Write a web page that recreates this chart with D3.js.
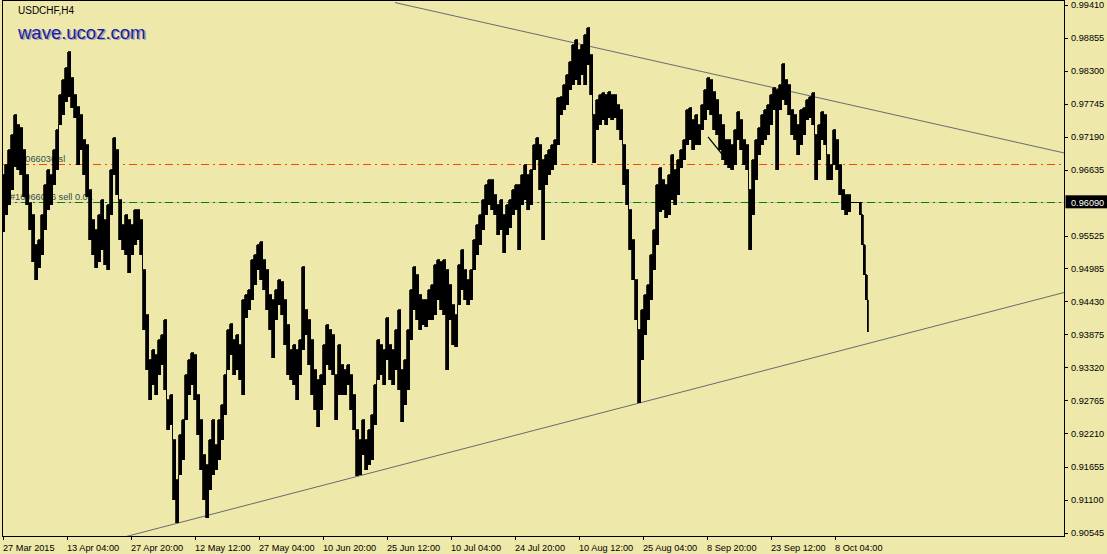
<!DOCTYPE html>
<html><head><meta charset="utf-8">
<script src="https://cdn.jsdelivr.net/npm/d3@7"></script>
<style>
html,body{margin:0;padding:0;background:#EEE8AA;}
svg{display:block;}
text{font-family:"Liberation Sans",Arial,sans-serif;}
</style></head><body>
<svg id="c" width="1107" height="554"></svg>
<script>
// ---------- DATA ----------
const symbolTitle = "USDCHF,H4";
const watermark = "wave.ucoz.com";

// H4 bar index counted from 27 Mar 2015 00:00
const bars = [
0,3,6,9,12,15,18,21,24,27,30,33,36,39,42,45,48,51,54,57,
60,63,66,69,72,75,78,81,84,87,90,93,96,99,102,105,108,111,114,117,
120,123,126,129,132,135,138,141,144,147,150,153,156,159,162,165,168,171,174,177,
180,183,186,189,192,195,198,201,204,207,210,213,216,219,222,225,228,231,234,237,
240,243,246,249,252,255,258,261,264,267,270,273,276,279,282,285,288,291,294,297,
300,303,306,309,312,315,318,321,324,327,330,333,336,339,342,345,348,351,354,357,
360,363,366,369,372,375,378,381,384,387,390,393,396,399,402,405,408,411,414,417,
420,423,426,429,432,435,438,441,444,447,450,453,456,459,462,465,468,471,474,477,
480,483,486,489,492,495,498,501,504,507,510,513,516,519,522,525,528,531,534,537,
540,543,546,549,552,555,558,561,564,567,570,573,576,579,582,585,588,591,594,597,
600,603,606,609,612,615,618,621,624,627,630,633,636,639,642,645,648,651,654,657,
660,663,666,669,672,675,678,681,684,687,690,693,696,699,702,705,708,711,714,717,
720,723,726,729,732,735,738,741,744,747,750,753,756,759,762,765,768,771,774,777,
780,783,786,789,792,795,798,801,804,807,810,813,816,819,822,825,828,831,834,837,
840,843,846,849,852,855,857,859,861,863,865];

const highs = [
0.96549,0.96717,0.96969,0.97221,0.97556,0.97388,0.97338,0.96969,0.96549,0.96080,
0.95878,0.95375,0.95459,0.95878,0.96382,0.96633,0.96549,0.96969,0.97305,0.97892,
0.98144,0.98345,0.98613,0.98177,0.97892,0.97690,0.97556,0.97137,0.97053,0.96298,
0.95794,0.95627,0.95878,0.96130,0.95794,0.96046,0.96633,0.97170,0.96969,0.96130,
0.95711,0.95878,0.95794,0.95711,0.95962,0.95962,0.95794,0.94955,0.94200,0.93445,
0.93613,0.93529,0.93781,0.93865,0.94116,0.92774,0.92858,0.92103,0.91432,0.92187,
0.92438,0.93194,0.93445,0.93563,0.93529,0.92858,0.92438,0.91851,0.91683,0.92103,
0.92438,0.92019,0.92438,0.92690,0.93194,0.93949,0.94049,0.93781,0.93865,0.93697,
0.94452,0.94536,0.94620,0.95123,0.95207,0.95375,0.95425,0.95123,0.94955,0.94536,
0.94452,0.94620,0.94788,0.94754,0.94452,0.94033,0.93613,0.93697,0.93613,0.93781,
0.95006,0.94284,0.94116,0.93781,0.93277,0.93110,0.93194,0.93697,0.94033,0.93949,
0.93865,0.93194,0.93697,0.93361,0.93277,0.93361,0.93194,0.92858,0.92271,0.92103,
0.92438,0.92103,0.92271,0.92522,0.93026,0.93781,0.93697,0.93613,0.94150,0.93697,
0.93613,0.93949,0.94284,0.93277,0.93445,0.93949,0.94620,0.95006,0.94872,0.94536,
0.94452,0.94452,0.94620,0.94704,0.95039,0.95123,0.95090,0.95123,0.94955,0.94704,
0.94368,0.94200,0.95039,0.95291,0.94955,0.94788,0.94955,0.95459,0.95711,0.95878,
0.96130,0.96382,0.96466,0.96466,0.96214,0.96046,0.96130,0.95878,0.96046,0.96130,
0.96298,0.96382,0.96382,0.96549,0.96717,0.96549,0.96633,0.97053,0.97170,0.97053,
0.96801,0.96885,0.96969,0.97053,0.97137,0.97842,0.97858,0.98060,0.98228,0.98446,
0.98731,0.98815,0.98647,0.98731,0.98899,0.99016,0.98563,0.97556,0.97808,0.97892,
0.97925,0.97892,0.97942,0.97892,0.97892,0.97724,0.97640,0.97053,0.96633,0.95962,
0.95459,0.94788,0.93949,0.94284,0.94536,0.94704,0.95207,0.95627,0.96382,0.96667,
0.96466,0.96382,0.96549,0.96885,0.96633,0.96801,0.96969,0.97137,0.97640,0.97674,
0.97472,0.97556,0.97388,0.97724,0.97976,0.98177,0.98144,0.97942,0.97808,0.97556,
0.97388,0.97137,0.97137,0.97053,0.97305,0.97607,0.97472,0.97137,0.97053,0.96298,
0.96801,0.97137,0.97338,0.97556,0.97640,0.97724,0.97892,0.98009,0.97976,0.98060,
0.98412,0.98144,0.98060,0.97640,0.97556,0.97388,0.97640,0.97674,0.97808,0.97858,
0.97925,0.97221,0.97388,0.97607,0.97556,0.96885,0.96717,0.97305,0.97137,0.96717,
0.96298,0.96214,0.96214,0.96090,0.96090,0.96090,
0.96090,0.95878,0.95375,0.94872,0.94452];

const lows = [
0.95593,0.95878,0.96046,0.96298,0.96684,0.96633,0.96549,0.96180,0.96046,0.95627,
0.95090,0.94788,0.94989,0.95207,0.95627,0.95962,0.96046,0.96382,0.96633,0.97388,
0.97556,0.97774,0.97858,0.97674,0.97506,0.96717,0.96969,0.96549,0.96180,0.95459,
0.95207,0.94989,0.95090,0.95291,0.95039,0.94955,0.95878,0.96549,0.96214,0.95459,
0.95291,0.95207,0.94905,0.95207,0.95375,0.95459,0.95207,0.93949,0.93277,0.92774,
0.93026,0.92858,0.93194,0.93361,0.92942,0.92271,0.92355,0.91096,0.90710,0.91516,
0.91767,0.92438,0.92858,0.93026,0.92774,0.92187,0.91599,0.91096,0.90794,0.91264,
0.91516,0.91599,0.91767,0.92103,0.92522,0.93277,0.93529,0.93194,0.93277,0.93110,
0.92858,0.94150,0.94284,0.94452,0.94704,0.94955,0.94788,0.94620,0.94284,0.93949,
0.93479,0.94116,0.94368,0.94200,0.93697,0.93194,0.93110,0.93026,0.92774,0.93194,
0.93613,0.93865,0.93361,0.92858,0.92606,0.92321,0.92606,0.93026,0.93361,0.93277,
0.93194,0.92438,0.92858,0.92858,0.92858,0.93026,0.92606,0.92271,0.91499,0.91516,
0.91851,0.91599,0.91683,0.91767,0.92355,0.93110,0.93194,0.93026,0.93445,0.93110,
0.93026,0.93277,0.92942,0.92405,0.92690,0.92942,0.93781,0.94284,0.94116,0.93949,
0.94033,0.93999,0.94116,0.94116,0.94200,0.94452,0.94284,0.94200,0.93277,0.94116,
0.93697,0.93663,0.94368,0.94620,0.94452,0.94368,0.94452,0.94955,0.95207,0.95375,
0.95627,0.95878,0.96046,0.95962,0.95878,0.95543,0.95627,0.95241,0.95543,0.95660,
0.95878,0.95962,0.95291,0.96046,0.96130,0.95962,0.96046,0.96633,0.96801,0.96298,
0.95459,0.96382,0.96549,0.96633,0.96717,0.97053,0.97556,0.97640,0.97724,0.97976,
0.98060,0.98144,0.98060,0.98228,0.98060,0.98395,0.97892,0.96751,0.97305,0.97388,
0.97472,0.97388,0.97506,0.97472,0.97506,0.97305,0.97137,0.96382,0.96046,0.95291,
0.94788,0.94116,0.92724,0.93445,0.93865,0.94116,0.94452,0.94955,0.95375,0.95929,
0.95962,0.95828,0.95878,0.96130,0.96046,0.96214,0.96667,0.96801,0.97053,0.97137,
0.96969,0.97053,0.97053,0.97305,0.97472,0.97640,0.97556,0.97305,0.97221,0.96969,
0.96801,0.96717,0.96667,0.96633,0.96717,0.97137,0.96969,0.96717,0.96633,0.95291,
0.95878,0.96466,0.96885,0.97053,0.97137,0.97221,0.97388,0.97640,0.96633,0.97640,
0.97808,0.97724,0.97556,0.97221,0.97137,0.96885,0.97053,0.97221,0.97472,0.97506,
0.97388,0.96466,0.96801,0.97137,0.97053,0.96466,0.96466,0.96717,0.96633,0.96214,
0.95962,0.95878,0.95929,0.96090,0.96090,0.96090,
0.95878,0.95375,0.94872,0.94452,0.93915];

const priceTicks = [0.99410,0.98855,0.98300,0.97745,0.97190,0.96635,0.95525,0.94985,
  0.94430,0.93875,0.93320,0.92765,0.92210,0.91655,0.91100,0.90545];
const priceTickLabels = ["0.99410","0.98855","0.98300","0.97745","0.97190","0.96635","0.95525","0.94985",
  "0.94430","0.93875","0.93320","0.92765","0.92210","0.91655","0.91100","0.90545"];

const timeTicks = [0,64,128,192,256,320,384,448,512,576,640,704,768,832];
const timeTickLabels = ["27 Mar 2015","13 Apr 04:00","27 Apr 20:00","12 May 12:00","27 May 04:00",
  "10 Jun 20:00","25 Jun 12:00","10 Jul 04:00","24 Jul 20:00","10 Aug 12:00","25 Aug 04:00",
  "8 Sep 20:00","23 Sep 12:00","8 Oct 04:00"];

const upperTrendBars = [392, 1061];
const upperTrendPrices = [0.99442, 0.96919];
const lowerTrendBars = [120, 1061];
const lowerTrendPrices = [0.90467, 0.94576];
const tradeLineBars = [705, 722];
const tradeLinePrices = [0.97187, 0.96835];

const slPrice = 0.96729;
const slLabel = "#16066036 sl";
const openPrice = 0.96090;
const openLabel = "#16066036 sell 0.01";
const currentPrice = 0.96090;
const currentPriceLabel = "0.96090";

// ---------- LAYOUT ----------
const W = 1107, H = 554;
const pL = 2.5, pR = 1064.5, pT = 0.5, pB = 536.5;

const svg = d3.select("#c");
svg.append("rect").attr("width", W).attr("height", H).attr("fill", "#EEE8AA");

const x = d3.scaleLinear().domain([0, 1061.5]).range([3, 1064.5]);
const y = d3.scaleLinear().domain([0.90545, 0.99410]).range([532.7, 4.5]);

svg.append("clipPath").attr("id", "plot")
  .append("rect").attr("x", pL).attr("y", pT).attr("width", pR - pL).attr("height", pB - pT);

const g = svg.append("g").attr("clip-path", "url(#plot)");

// level lines
g.append("line").attr("x1", pL).attr("x2", pR).attr("y1", y(slPrice)).attr("y2", y(slPrice))
  .attr("stroke", "#FF4500").attr("stroke-width", 1).attr("stroke-dasharray", "8,4,2,4")
  .attr("shape-rendering", "crispEdges");
g.append("line").attr("x1", pL).attr("x2", pR).attr("y1", y(openPrice)).attr("y2", y(openPrice))
  .attr("stroke", "#C0C0C0").attr("stroke-width", 1).attr("shape-rendering", "crispEdges");
g.append("line").attr("x1", pL).attr("x2", pR).attr("y1", y(openPrice)).attr("y2", y(openPrice))
  .attr("stroke", "#008000").attr("stroke-width", 1).attr("stroke-dasharray", "8,4,2,4")
  .attr("shape-rendering", "crispEdges");

g.append("text").attr("x", 10).attr("y", y(slPrice) - 2.5).attr("font-size", 9.2).attr("fill", "#2F4F4F").text(slLabel);
g.append("text").attr("x", 10).attr("y", y(openPrice) - 2.5).attr("font-size", 9.2).attr("fill", "#2F4F4F").text(openLabel);

// trend lines
function seg(bs, ps, color, w) {
  g.append("line").attr("x1", x(bs[0])).attr("y1", y(ps[0])).attr("x2", x(bs[1])).attr("y2", y(ps[1]))
    .attr("stroke", color).attr("stroke-width", w);
}
seg(upperTrendBars, upperTrendPrices, "#6A6A72", 1);
seg(lowerTrendBars, lowerTrendPrices, "#6A6A72", 1);

// price bars: dense high-low columns
const data = bars.map((b, i) => ({bar: b, hi: highs[i], lo: lows[i]}));
const area = d3.area().curve(d3.curveStep).x(d => x(d.bar)).y0(d => y(d.lo)).y1(d => y(d.hi));
g.append("path").datum(data).attr("d", area).attr("fill", "#000").attr("stroke", "#000")
  .attr("stroke-width", 0.8).attr("shape-rendering", "crispEdges");

// trade history line
seg(tradeLineBars, tradeLinePrices, "#000", 1.3);

// frame
svg.append("rect").attr("x", pL).attr("y", pT).attr("width", pR - pL).attr("height", pB - pT)
  .attr("fill", "none").attr("stroke", "#000").attr("stroke-width", 1).attr("shape-rendering", "crispEdges");

// price axis
const pa = svg.append("g");
priceTicks.forEach((p, i) => {
  const yy = Math.round(y(p)) + 0.5;
  pa.append("line").attr("x1", pR).attr("x2", pR + 3).attr("y1", yy).attr("y2", yy)
    .attr("stroke", "#000").attr("shape-rendering", "crispEdges");
  pa.append("text").attr("x", 1071).attr("y", y(p) + 3.4).attr("font-size", 9.2).attr("fill", "#000")
    .text(priceTickLabels[i]);
});
// current price tag
const cy = y(currentPrice);
pa.append("rect").attr("x", 1065.5).attr("y", cy - 7).attr("width", 42).attr("height", 13).attr("fill", "#000");
pa.append("text").attr("x", 1071).attr("y", cy + 3.4).attr("font-size", 9.2).attr("fill", "#fff").text(currentPriceLabel);

// time axis
const ta = svg.append("g");
timeTicks.forEach((b, i) => {
  const xx = Math.round(x(b)) + 0.5;
  ta.append("line").attr("x1", xx).attr("x2", xx).attr("y1", pB).attr("y2", pB + 3.5)
    .attr("stroke", "#000").attr("shape-rendering", "crispEdges");
  ta.append("text").attr("x", x(b)).attr("y", 550.5).attr("font-size", 9.2).attr("fill", "#000")
    .text(timeTickLabels[i]);
});

// titles
svg.append("text").attr("x", 18).attr("y", 14).attr("font-size", 10).attr("fill", "#000").text(symbolTitle);
svg.append("text").attr("x", 19.5).attr("y", 40).attr("font-size", 18.5).attr("fill", "#9EA0C0").text(watermark);
svg.append("text").attr("x", 18).attr("y", 38.5).attr("font-size", 18.5).attr("fill", "#1C1C96").text(watermark);
</script>
</body></html>
